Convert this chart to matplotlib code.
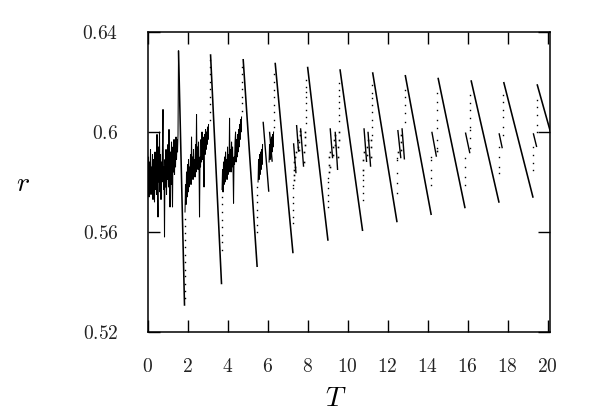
import numpy as np
import matplotlib
matplotlib.use('Agg')
import matplotlib.pyplot as plt

plt.rcParams['mathtext.fontset'] = 'cm'
plt.rcParams['font.family'] = ['DejaVu Serif']

# ---------------- data ----------------
# main slow declines: peak -> trough
peak_T = [1.55, 3.15, 4.78, 6.38, 8.00, 9.62, 11.25, 12.88, 14.52, 16.17, 17.80, 19.47]
peak_r = [0.6325, 0.6311, 0.6292, 0.6277, 0.6261, 0.6251, 0.6239, 0.6228, 0.6217, 0.6207, 0.6200, 0.6191]
trough_T = [1.85, 3.70, 5.48, 7.27, 9.02, 10.75, 12.47, 14.18, 15.87, 17.57, 19.27, 20.35]
trough_r = [0.5305, 0.5391, 0.5460, 0.5515, 0.5565, 0.5604, 0.5639, 0.5668, 0.5695, 0.5717, 0.5737, 0.5940]

# short declines inside the rising phases
mini_T0 = [5.78, 6.10, 7.30, 7.45, 7.65, 9.13, 9.38, 10.82, 11.02, 12.51, 12.72, 14.21, 15.89, 17.57, 19.28]
mini_r0 = [0.6041, 0.6001, 0.5955, 0.6028, 0.6015, 0.6015, 0.6001, 0.6015, 0.6001, 0.6008, 0.6015, 0.6001, 0.5998, 0.5995, 0.5995]
mini_T1 = [6.06, 6.23, 7.42, 7.55, 7.80, 9.25, 9.50, 10.95, 11.15, 12.66, 12.84, 14.44, 16.11, 17.73, 19.45]
mini_r1 = [0.5761, 0.5881, 0.5835, 0.5921, 0.5861, 0.5895, 0.5848, 0.5880, 0.5861, 0.5895, 0.5890, 0.5901, 0.5915, 0.5935, 0.5940]

# noisy transient, T = 0 ... 1.55
band0_T = [0.000, 0.025, 0.050, 0.075, 0.100, 0.125, 0.150, 0.175, 0.200, 0.225,
           0.250, 0.275, 0.300, 0.325, 0.350, 0.375, 0.400, 0.425, 0.450, 0.475,
           0.500, 0.525, 0.550, 0.575, 0.600, 0.625, 0.650, 0.675, 0.700, 0.725,
           0.750, 0.775, 0.800, 0.825, 0.850, 0.875, 0.900, 0.925, 0.950, 0.975,
           1.000, 1.025, 1.050, 1.075, 1.100, 1.125, 1.150, 1.175, 1.200, 1.225,
           1.250, 1.275, 1.300, 1.325, 1.350, 1.375, 1.400, 1.425, 1.450, 1.475,
           1.500, 1.525, 1.550]
band0_r = [0.583, 0.576, 0.590, 0.574, 0.588, 0.578, 0.593, 0.575, 0.586, 0.579,
           0.591, 0.573, 0.589, 0.580, 0.572, 0.592, 0.577, 0.590, 0.575, 0.599,
           0.578, 0.566, 0.594, 0.580, 0.600, 0.576, 0.591, 0.573, 0.588, 0.580,
           0.595, 0.609, 0.577, 0.586, 0.558, 0.589, 0.578, 0.593, 0.575, 0.590,
           0.581, 0.595, 0.578, 0.601, 0.583, 0.570, 0.592, 0.579, 0.596, 0.582,
           0.570, 0.594, 0.584, 0.597, 0.583, 0.596, 0.586, 0.598, 0.589, 0.597,
           0.592, 0.599, 0.6325]

band1_T = [1.875, 1.900, 1.925, 1.950, 1.975, 2.000, 2.025, 2.050, 2.075, 2.100,
           2.125, 2.150, 2.175, 2.200, 2.225, 2.250, 2.275, 2.300, 2.325, 2.350,
           2.375, 2.400, 2.425, 2.450, 2.475, 2.500, 2.525, 2.550, 2.575, 2.600,
           2.625, 2.650, 2.675, 2.700, 2.725, 2.750, 2.775, 2.800, 2.825, 2.850,
           2.875, 2.900, 2.925, 2.950, 2.975, 3.000, 3.025, 3.050]
band1_r = [0.568, 0.579, 0.571, 0.584, 0.574, 0.587, 0.576, 0.589, 0.578, 0.586,
           0.580, 0.591, 0.579, 0.598, 0.582, 0.590, 0.581, 0.593, 0.583, 0.589,
           0.582, 0.595, 0.584, 0.607, 0.586, 0.594, 0.585, 0.596, 0.587, 0.566,
           0.590, 0.586, 0.597, 0.588, 0.600, 0.589, 0.598, 0.590, 0.578, 0.599,
           0.591, 0.601, 0.593, 0.600, 0.595, 0.602, 0.597, 0.603]

band2_T = [3.725, 3.750, 3.775, 3.800, 3.825, 3.850, 3.875, 3.900, 3.925, 3.950,
           3.975, 4.000, 4.025, 4.050, 4.075, 4.100, 4.125, 4.150, 4.175, 4.200,
           4.225, 4.250, 4.275, 4.300, 4.325, 4.350, 4.375, 4.400, 4.425, 4.450,
           4.475, 4.500, 4.525, 4.550, 4.575, 4.600, 4.625, 4.650, 4.675, 4.700]
band2_r = [0.577, 0.585, 0.576, 0.588, 0.579, 0.590, 0.580, 0.592, 0.582, 0.589,
           0.581, 0.594, 0.583, 0.591, 0.584, 0.6055, 0.585, 0.593, 0.584, 0.596,
           0.586, 0.594, 0.585, 0.5715, 0.590, 0.587, 0.596, 0.600, 0.588, 0.597,
           0.590, 0.599, 0.592, 0.601, 0.594, 0.603, 0.597, 0.605, 0.600, 0.606]

band3a_T = [5.525, 5.550, 5.575, 5.600, 5.625, 5.650, 5.675, 5.700, 5.725, 5.750]
band3a_r = [0.580, 0.589, 0.581, 0.591, 0.583, 0.592, 0.585, 0.593, 0.587, 0.595]
band3b_T = [6.075, 6.100, 6.125, 6.150, 6.175, 6.200, 6.225, 6.250, 6.275, 6.300]
band3b_r = [0.588, 0.595, 0.589, 0.597, 0.590, 0.598, 0.592, 0.599, 0.594, 0.600]

# sparse points of the fast rises (columns of dots)
col_T = [1.860, 3.120, 3.710, 4.745, 5.490, 6.345,
         7.280, 7.940, 9.030, 9.590, 10.760, 11.210,
         12.480, 12.860, 14.190, 14.480, 15.880, 16.130,
         17.580, 17.760, 19.280, 19.450]
col_r = [
    [0.5335, 0.5365, 0.5392, 0.5425, 0.5450, 0.5482, 0.5510, 0.5540, 0.5568, 0.5595, 0.5625, 0.5652],
    [0.6050, 0.6080, 0.6112, 0.6140, 0.6172, 0.6200, 0.6232, 0.6260, 0.6290],
    [0.5530, 0.5562, 0.5590, 0.5622, 0.5650, 0.5681, 0.5712, 0.5740],
    [0.6085, 0.6115, 0.6142, 0.6173, 0.6200, 0.6232, 0.6260],
    [0.5600, 0.5630, 0.5662, 0.5690, 0.5722, 0.5750, 0.5782],
    [0.6020, 0.6050, 0.6082, 0.6110, 0.6142, 0.6170, 0.6200, 0.6232],
    [0.5635, 0.5661, 0.5688, 0.5715, 0.5741, 0.5775, 0.5788],
    [0.6036, 0.6062, 0.6090, 0.6115, 0.6140, 0.6160, 0.6181, 0.6210],
    [0.5700, 0.5725, 0.5750, 0.5775, 0.5800, 0.5815],
    [0.6045, 0.6070, 0.6095, 0.6120, 0.6145, 0.6170, 0.6195],
    [0.5728, 0.5755, 0.5785, 0.5810, 0.5828],
    [0.5988, 0.6020, 0.6050, 0.6080, 0.6110, 0.6135, 0.6155, 0.6190],
    [0.5755, 0.5795, 0.5835, 0.5888, 0.5895],
    [0.6041, 0.6075, 0.6108, 0.6141, 0.6170],
    [0.5788, 0.5815, 0.5848, 0.5888, 0.5901],
    [0.5935, 0.5970, 0.6015, 0.6048, 0.6088, 0.6121, 0.6155],
    [0.5788, 0.5821, 0.5861, 0.5895],
    [0.5935, 0.5975, 0.6008, 0.6021, 0.6055, 0.6088, 0.6115, 0.6150],
    [0.5835, 0.5861, 0.5901, 0.5941],
    [0.5988, 0.6021, 0.6061, 0.6088, 0.6121, 0.6150],
    [0.5848, 0.5875, 0.5908, 0.5941],
    [0.6001, 0.6028, 0.6068, 0.6101, 0.6130],
]

# small clusters of points between the short declines
clu_T = [7.30, 7.31, 7.32, 7.34, 7.36, 7.38, 7.40, 7.52, 7.54, 7.57, 7.59, 7.61, 7.63,
         7.81, 7.83, 7.85, 7.87, 7.89,
         9.05, 9.06, 9.08, 9.10, 9.12, 9.27, 9.29, 9.32, 9.35, 9.37, 9.52, 9.54, 9.55, 9.57,
         10.77, 10.79, 10.81, 10.96, 10.98, 11.00, 11.16, 11.18, 11.19,
         12.50, 12.65, 12.67, 12.69, 14.45]
clu_r = [0.581, 0.585, 0.588, 0.583, 0.590, 0.586, 0.592, 0.594, 0.597, 0.593, 0.596, 0.599, 0.6005,
         0.588, 0.592, 0.595, 0.598, 0.600,
         0.584, 0.587, 0.590, 0.586, 0.592, 0.591, 0.594, 0.597, 0.595, 0.599, 0.590, 0.594, 0.597, 0.600,
         0.585, 0.589, 0.592, 0.591, 0.594, 0.597, 0.590, 0.594, 0.597,
         0.592, 0.593, 0.596, 0.599, 0.5925]

x_ticks = [0, 2, 4, 6, 8, 10, 12, 14, 16, 18, 20]
y_ticks = [0.52, 0.56, 0.6, 0.64]
y_tick_labels = ['0.52', '0.56', '0.6', '0.64']

# ---------------- figure ----------------
W, H = 598, 419
fig = plt.figure(figsize=(W / 100, H / 100), dpi=100)
ax = fig.add_axes([147.5 / W, 1 - 332 / H, 402.5 / W, 300 / H])

k = 'black'
for t0, r0, t1, r1 in zip(peak_T, peak_r, trough_T, trough_r):
    ax.plot([t0, t1], [r0, r1], color=k, lw=1.15, solid_capstyle='butt')
for t0, r0, t1, r1 in zip(mini_T0, mini_r0, mini_T1, mini_r1):
    ax.plot([t0, t1], [r0, r1], color=k, lw=1.0, solid_capstyle='butt')

for bt, br in [(band0_T, band0_r), (band1_T, band1_r), (band2_T, band2_r),
               (band3a_T, band3a_r), (band3b_T, band3b_r)]:
    ax.plot(bt, br, color=k, lw=0.75)

for t, rs in zip(col_T, col_r):
    ax.plot([t] * len(rs), rs, ls='none', marker='s', ms=1.0, mew=0, color=k)
ax.plot(clu_T, clu_r, ls='none', marker='s', ms=1.2, mew=0, color=k)

ax.set_xlim(0, 20.115)
ax.set_ylim(0.52, 0.64)
ax.set_xticks(x_ticks, labels=[f'${v}$' for v in x_ticks])
ax.set_yticks(y_ticks, labels=[f'${v}$' for v in y_tick_labels])
ax.tick_params(direction='in', length=8.4, width=1.0, top=True, right=True,
               labelsize=14, labelcolor='#222222')
ax.tick_params(axis='y', pad=21)
ax.tick_params(axis='x', pad=18.5)
for s in ax.spines.values():
    s.set_linewidth(1.1)

fig.text(23 / W, 1 - 183 / H, '$r$', fontsize=20, ha='center', va='center')
fig.text(336 / W, 1 - 398 / H, '$T$', fontsize=20, ha='center', va='center')

fig.savefig('out.png', dpi=100)
